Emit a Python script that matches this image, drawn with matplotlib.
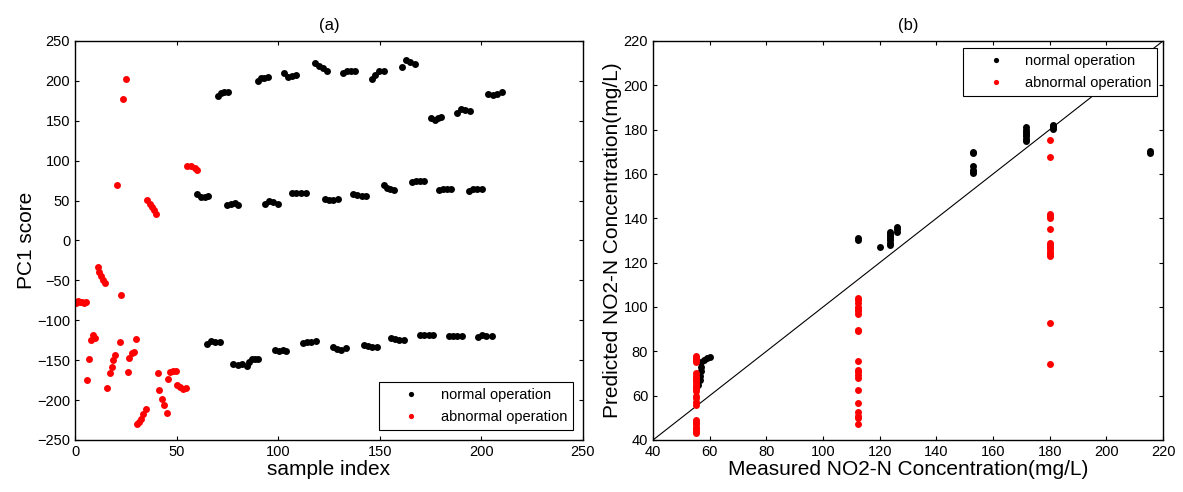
import numpy as np
import matplotlib
matplotlib.use('Agg')
import matplotlib.pyplot as plt

plt.rcParams['font.family'] = ['Liberation Sans', 'DejaVu Sans']

# (a) PC1 score - normal operation (sample index, score)
normal_a_x = [70.5, 72, 73.5, 75.5, 90, 91.5, 93, 95, 103, 105, 107, 109,
              118, 120, 122, 124, 132, 134, 136, 138, 146, 147.5, 149.5, 152,
              161, 163, 165, 167.5, 175, 177, 178.5, 180, 188, 190, 192, 194.5,
              203.5, 205.5, 207.5, 210,
              60, 62, 64, 65.5, 75, 77, 78.5, 80, 93.5, 95.5, 97.5, 100,
              107, 109, 111, 113.5, 123, 125, 127, 129.5, 137, 139, 141, 143,
              152, 153.5, 155, 157, 166, 168, 170, 172, 179, 181, 183, 185,
              194, 196, 198, 200.5,
              65, 67, 69, 71.5, 78, 80, 82, 84.5, 85.5, 87, 88.5, 90,
              98.5, 100.5, 102.5, 104, 112, 114, 116, 118.5, 127, 129, 131, 133.5,
              142, 144, 146, 148.5, 155.5, 157.5, 159.5, 162, 170, 172, 174, 176,
              184, 186, 188, 190.5, 198.5, 200.5, 202.5, 205]
normal_a_y = [181, 185, 186, 186, 200, 204, 203, 205, 210, 205, 206, 207,
              222, 219, 216, 212, 210, 212, 213, 213, 202, 208, 212, 213,
              217, 226, 224, 221, 153, 151, 153, 155, 160, 165, 163, 162,
              184, 182, 183, 186,
              58, 55, 55, 56, 44, 46, 47, 45, 46, 49, 48, 46,
              59, 59, 59.5, 60, 52, 51, 51, 52, 58, 57, 56, 56,
              69, 66, 64, 63, 73, 74, 74, 74, 63, 64, 64, 64,
              62, 64, 65, 65,
              -130, -126, -127, -127, -155, -156, -155, -157, -152, -149, -148, -148,
              -137, -139, -137, -138, -128, -127, -127, -126, -134, -136, -137, -135,
              -131, -132, -133, -133, -122, -124, -125, -125, -119, -118, -118, -118,
              -120, -120, -120, -120, -121, -118, -120, -120]

# (a) PC1 score - abnormal operation
abnormal_a_x = [0.5, 1.5, 2.5, 3.5, 4.5, 5.5, 5.7, 7, 7.7, 8.7, 9.8,
                11.2, 12, 12.8, 14, 15, 15.6, 17, 18, 18.5, 19.7,
                20.7, 22, 22.5, 23.6, 25, 26, 26.6, 27.9, 29, 30,
                30.5, 31.5, 32.5, 33.5, 35, 35.5, 37, 38, 39, 40,
                41, 41.5, 42.9, 43.8, 45.2, 45.6, 46.8, 48.4, 49.8,
                50.4, 51.7, 53.3, 54.7, 55, 57, 59, 60]
abnormal_a_y = [-78, -76, -77, -77, -78, -77, -175, -148, -125, -118, -122,
                -33, -40, -45, -49, -53, -185, -166, -158, -150, -144,
                70, -127, -68, 177, 202, -165, -147, -141, -140, -124,
                -230, -227, -224, -218, -211, 51, 46, 42, 38, 33,
                -166, -187, -199, -206, -216, -174, -165, -164, -163,
                -181, -183, -186, -185, 93, 93, 91, 88]

# (b) measured vs predicted NO2-N (mg/L) - normal operation
normal_b_x = [56, 56.5, 56.5, 57, 57, 57, 58, 59, 60,
              112.3, 112.3, 120, 123.7, 123.7, 123.7, 123.7, 123.7, 123.7, 123.7,
              126, 126, 126,
              153, 153, 153, 153, 153, 153,
              171.5, 171.5, 171.5, 171.5, 171.5, 171.5, 171.5,
              181.3, 181.3, 181.3, 181.3, 215.5, 215.5]
normal_b_y = [65, 67, 69, 71, 73, 75, 76, 77, 77.5,
              131, 130, 127, 128, 129, 130, 131, 132, 133, 134,
              134, 135, 136,
              170, 169.5, 163.5, 162, 161, 160.5,
              175, 176, 177, 178, 179, 180, 181,
              180.5, 181, 181.5, 182, 170.3, 169.5]

# (b) abnormal operation
abnormal_b_x = [55] * 24 + [112.2] * 20 + [180.1] * 15
abnormal_b_y = [78, 77, 76, 75, 70, 69, 68, 67, 66, 65, 64, 63, 62, 60, 59, 57, 56,
                49, 48, 47, 46, 45, 44, 43,
                104, 103, 102, 100, 99, 98, 97, 89.5, 89, 75.6, 71.5, 70.5, 69.5, 68,
                62.5, 56.7, 52.5, 51, 50, 47.2,
                175.3, 167.8, 142, 141, 140, 135, 129, 128, 127, 126, 125, 124, 123,
                93, 74.4]

fig = plt.figure(figsize=(11.83, 4.92), dpi=100)


def style_axes(ax):
    ax.tick_params(direction='in', top=True, right=True, labelsize=10.5,
                   length=3, width=0.8)
    for s in ax.spines.values():
        s.set_linewidth(1.0)


ms = 5.0
leg_kw = dict(borderaxespad=0, fontsize=10.5, fancybox=False, edgecolor='black',
              framealpha=1, markerscale=0.75, handletextpad=0.2, handlelength=3.6,
              borderpad=0.4, labelspacing=0.55)

# (a)
ax1 = fig.add_axes([0.0634, 0.1057, 0.4294, 0.811])
ax1.plot(normal_a_x, normal_a_y, 'o', color='black', ms=ms, mew=0, label='normal operation')
ax1.plot(abnormal_a_x, abnormal_a_y, 'o', color='red', ms=ms, mew=0, label='abnormal operation')
ax1.set_xlim(0, 250)
ax1.set_ylim(-250, 250)
ax1.set_xticks(np.arange(0, 251, 50))
ax1.set_yticks(np.arange(-250, 251, 50))
ax1.set_xlabel('sample index', fontsize=15, labelpad=1)
ax1.set_ylabel('PC1 score', fontsize=15, labelpad=1)
ax1.set_title('(a)', fontsize=12, pad=8)
style_axes(ax1)
leg1 = ax1.legend(loc='lower right', bbox_to_anchor=(0.980, 0.025), **leg_kw)
leg1.get_frame().set_linewidth(0.8)

# (b)
ax2 = fig.add_axes([0.552, 0.1057, 0.4311, 0.811])
ax2.plot([40, 220], [40, 220], color='black', lw=0.8)
ax2.plot(normal_b_x, normal_b_y, 'o', color='black', ms=ms, mew=0, label='normal operation')
ax2.plot(abnormal_b_x, abnormal_b_y, 'o', color='red', ms=ms, mew=0, label='abnormal operation')
ax2.set_xlim(40, 220)
ax2.set_ylim(40, 220)
ax2.set_xticks(np.arange(40, 221, 20))
ax2.set_yticks(np.arange(40, 221, 20))
ax2.set_xlabel('Measured NO2-N Concentration(mg/L)', fontsize=15, labelpad=1)
ax2.set_ylabel('Predicted NO2-N Concentration(mg/L)', fontsize=15, labelpad=1)
ax2.set_title('(b)', fontsize=12, pad=8)
style_axes(ax2)
leg2 = ax2.legend(loc='upper right', bbox_to_anchor=(0.988, 0.982), **leg_kw)
leg2.get_frame().set_linewidth(0.8)

plt.savefig('out.png', dpi=100)
